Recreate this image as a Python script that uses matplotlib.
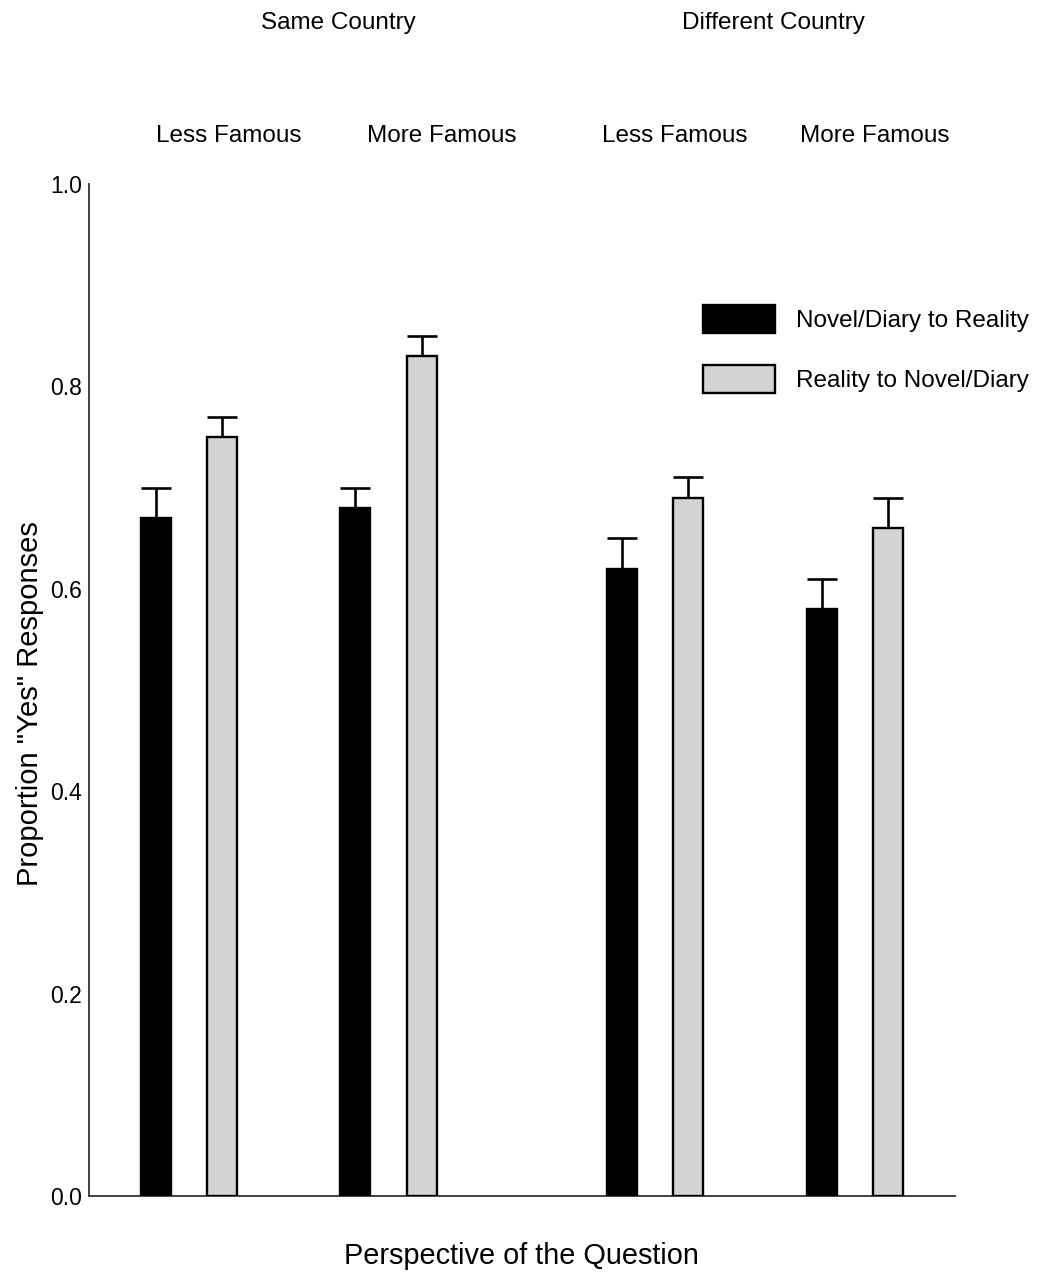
import matplotlib.pyplot as plt
import numpy as np

plt.rcParams['font.family'] = ['Liberation Sans', 'DejaVu Sans']

# bar positions: two conditions per fame level, two fame levels per country
series_names = ['Novel/Diary to Reality', 'Reality to Novel/Diary']
novel_to_reality = [0.67, 0.68, 0.62, 0.58]
novel_to_reality_err = [0.03, 0.02, 0.03, 0.03]
reality_to_novel = [0.75, 0.83, 0.69, 0.66]
reality_to_novel_err = [0.02, 0.02, 0.02, 0.03]
fame_labels = ['Less Famous', 'More Famous', 'Less Famous', 'More Famous']
country_labels = ['Same Country', 'Different Country']

x_black = np.array([1, 4, 8, 11])
x_gray = x_black + 1
bar_w = 0.45

fig = plt.figure(figsize=(10.37, 12.76), dpi=100)
ax = fig.add_axes([0.0858, 0.0627, 0.835, 0.7931])

ax.bar(x_black, novel_to_reality, width=bar_w, color='black',
       edgecolor='black', linewidth=1.7, label=series_names[0], zorder=3)
ax.bar(x_gray, reality_to_novel, width=bar_w, color='#d3d3d3',
       edgecolor='black', linewidth=1.7, label=series_names[1], zorder=3)

zeros = [0] * 4
ax.errorbar(x_black, novel_to_reality, yerr=[zeros, novel_to_reality_err],
            fmt='none', ecolor='black', elinewidth=1.9, capsize=10.8,
            capthick=1.9, zorder=2)
ax.errorbar(x_gray, reality_to_novel, yerr=[zeros, reality_to_novel_err],
            fmt='none', ecolor='black', elinewidth=1.9, capsize=10.8,
            capthick=1.9, zorder=2)

ax.set_xlim(0, 13)
ax.set_ylim(0, 1.0)
ax.set_yticks([0.0, 0.2, 0.4, 0.6, 0.8, 1.0])
ax.set_yticklabels(['0.0', '0.2', '0.4', '0.6', '0.8', '1.0'])
ax.set_xticks([])
ax.tick_params(axis='y', length=0, pad=5, labelsize=16.5)

for s in ['top', 'right']:
    ax.spines[s].set_visible(False)
ax.spines['left'].set_color('#333333')
ax.spines['bottom'].set_color('#333333')
ax.spines['left'].set_linewidth(1.3)
ax.spines['bottom'].set_linewidth(1.3)

# column headers above the plot
trans = ax.get_xaxis_transform()
fame_x = [2.1, 5.3, 8.8, 11.8]
for xx, lab in zip(fame_x, fame_labels):
    ax.text(xx, 1.0 + (184 - 136) / 1012, lab, transform=trans,
            ha='center', va='center', fontsize=17.5)
country_x = [3.74, 10.27]
for xx, lab in zip(country_x, country_labels):
    ax.text(xx, 1.0 + (184 - 23) / 1012, lab, transform=trans,
            ha='center', va='center', fontsize=17.5)

fig.text(0.029, 0.449, 'Proportion "Yes" Responses', rotation=90,
         ha='center', va='center', fontsize=21)
fig.text(0.503, 0.0157, 'Perspective of the Question',
         ha='center', va='center', fontsize=20.8)

ax.legend(loc='upper left', bbox_to_anchor=(0.678, 0.7609),
          bbox_transform=fig.transFigure, frameon=False, fontsize=17.5,
          handlelength=2.96, handleheight=1.4, handletextpad=0.85,
          labelspacing=1.3, borderpad=0, borderaxespad=0)

fig.savefig('out.png', dpi=100)
